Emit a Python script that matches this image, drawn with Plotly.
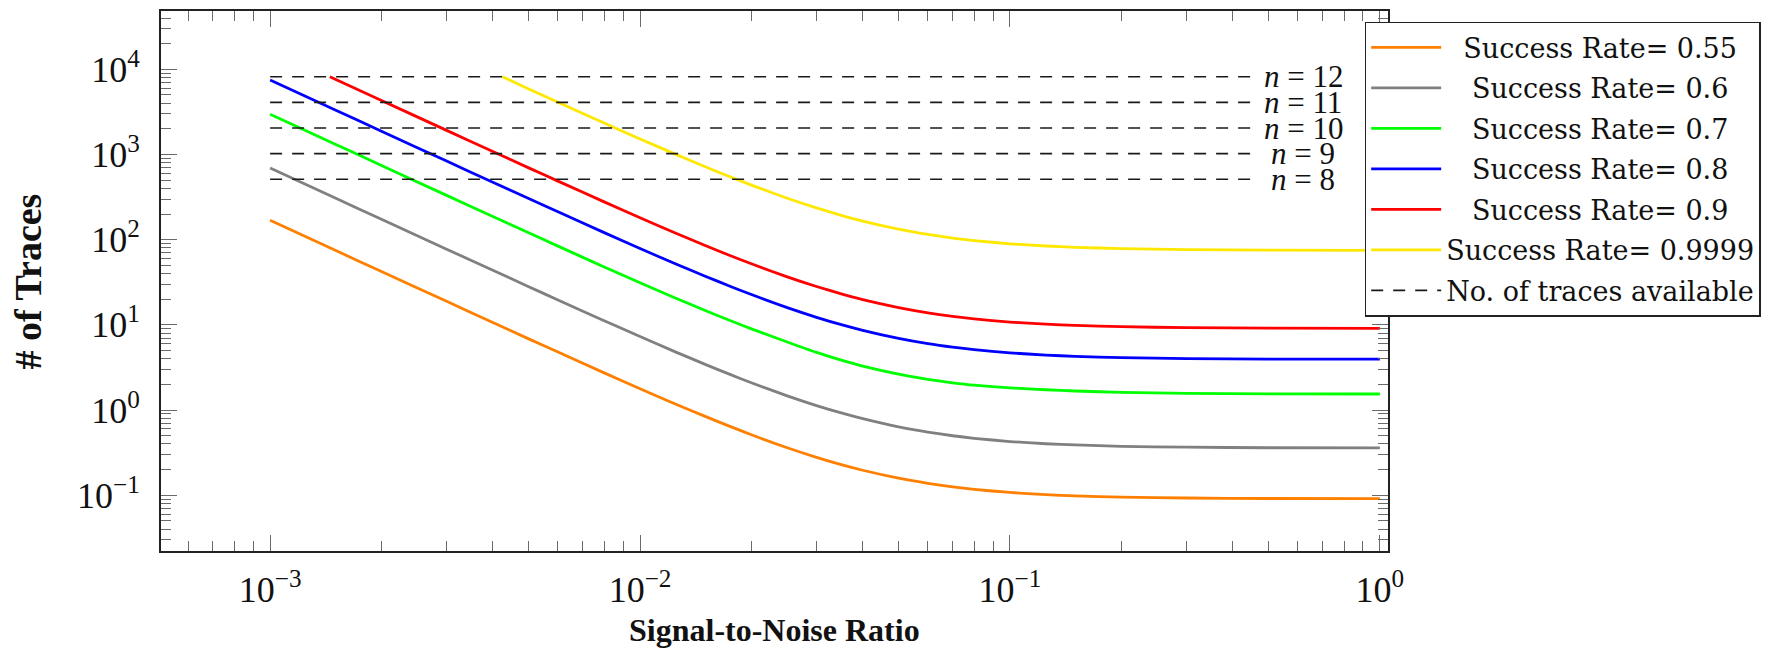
import math
import plotly.graph_objects as go

# ---- data ----
snr_grid = [0.001, 0.0015, 0.002, 0.003, 0.004, 0.005, 0.006, 0.008, 0.01, 0.0125,
            0.015, 0.0175, 0.02, 0.025, 0.03, 0.035, 0.04, 0.05, 0.06, 0.07,
            0.08, 0.1, 0.125, 0.15, 0.2, 0.3, 0.5, 1.0]

traces_055 = [169, 75.1, 42.3, 18.9, 10.65, 6.85, 4.79, 2.73, 1.78, 1.172,
              0.842, 0.643, 0.513, 0.361, 0.2786, 0.2287, 0.1964, 0.1584, 0.1378, 0.1253,
              0.1172, 0.1077, 0.1016, 0.0983, 0.0950, 0.0927, 0.0915, 0.0910]
traces_06 = [693, 308, 173.6, 77.4, 43.7, 28.1, 19.6, 11.19, 7.29, 4.79,
             3.44, 2.62, 2.09, 1.467, 1.128, 0.924, 0.791, 0.635, 0.551, 0.499,
             0.466, 0.427, 0.402, 0.389, 0.375, 0.366, 0.361, 0.359]
traces_07 = [2972, 1321, 744, 331.5, 187.2, 120.3, 84.0, 47.9, 31.2, 20.55,
             14.74, 11.24, 8.97, 6.29, 4.75, 3.85, 3.28, 2.64, 2.29, 2.09,
             1.96, 1.82, 1.73, 1.672, 1.614, 1.573, 1.552, 1.543]
traces_08 = [7504, 3337, 1879, 837, 473, 304, 212.3, 121.1, 78.9, 51.9,
             37.3, 28.4, 22.7, 15.94, 12.27, 10.06, 8.63, 6.94, 6.02, 5.47,
             5.11, 4.69, 4.42, 4.27, 4.13, 4.02, 3.97, 3.95]

snr_09 = [0.00145, 0.002, 0.003, 0.004, 0.005, 0.006, 0.008, 0.01, 0.0125,
          0.015, 0.0175, 0.02, 0.025, 0.03, 0.035, 0.04, 0.05, 0.06, 0.07,
          0.08, 0.1, 0.125, 0.15, 0.2, 0.3, 0.5, 1.0]
traces_09 = [8192, 4309, 1920, 1084, 697, 487, 277.8, 181.1, 119.2,
             85.5, 65.2, 52.1, 36.6, 28.2, 23.1, 19.8, 15.96, 13.86, 12.59,
             11.77, 10.8, 10.18, 9.84, 9.51, 9.27, 9.15, 9.10]

snr_09999 = [0.00425, 0.005, 0.006, 0.008, 0.01, 0.0125,
             0.015, 0.0175, 0.02, 0.025, 0.03, 0.035, 0.04, 0.05, 0.06, 0.07,
             0.08, 0.1, 0.125, 0.15, 0.2, 0.3, 0.5, 1.0]
traces_09999 = [8192, 5875, 4103, 2341, 1525, 1003,
                719, 548, 437.5, 307, 236, 193.4, 165.6, 133, 115.3, 104.6,
                97.7, 89.5, 84.3, 81.4, 78.6, 76.6, 75.6, 75.1]

success_labels = ["Success Rate= 0.55", "Success Rate= 0.6", "Success Rate= 0.7",
                  "Success Rate= 0.8", "Success Rate= 0.9", "Success Rate= 0.9999"]
available_label = "No. of traces available"

n_values = [8, 9, 10, 11, 12]
traces_available = [512, 1024, 2048, 4096, 8192]
available_snr_span = [0.001, 0.45]
n_label_snr = 0.62

x_tick_vals = [1e-3, 1e-2, 1e-1, 1]
x_tick_text = ["10<sup>\u22123</sup>", "10<sup>\u22122</sup>", "10<sup>\u22121</sup>", "10<sup>0</sup>"]
y_tick_vals = [1e-1, 1, 10, 100, 1000, 10000]
y_tick_text = ["10<sup>\u22121</sup>", "10<sup>0</sup>", "10<sup>1</sup>", "10<sup>2</sup>", "10<sup>3</sup>", "10<sup>4</sup>"]

# ---- styling ----
colors = ["#FF8000", "#808080", "#00FF00", "#0000FF", "#FF0000", "#FFE800"]
legend_pad = [2, 3, 3, 3, 3, 0]
serif = "Liberation Serif"
legend_font = "DejaVu Serif"

series_x = [snr_grid, snr_grid, snr_grid, snr_grid, snr_09, snr_09999]
series_y = [traces_055, traces_06, traces_07, traces_08, traces_09, traces_09999]

fig = go.Figure()
for name, xs, ys, col, pad in zip(success_labels, series_x, series_y, colors, legend_pad):
    fig.add_trace(go.Scatter(
        x=xs, y=ys, mode="lines", name="&nbsp;" * pad + name,
        line=dict(color=col, width=2.8, shape="spline", smoothing=0.6),
        legendgroup=name,
    ))

for i, (n, v) in enumerate(zip(n_values, traces_available)):
    fig.add_trace(go.Scatter(
        x=available_snr_span, y=[v, v], mode="lines",
        name=available_label, legendgroup="avail", showlegend=(i == 0),
        line=dict(color="#1a1a1a", width=1.6, dash="12px,10px"),
    ))
    fig.add_annotation(
        x=math.log10(n_label_snr), y=math.log10(v), xref="x", yref="y",
        text=f"<i>n</i> = {n}", showarrow=False, xanchor="center", yanchor="middle",
        font=dict(family=serif, size=31, color="#111"),
    )

minor_x = [m * 10.0 ** k for k in range(-4, 1) for m in range(2, 10)]
minor_y = [m * 10.0 ** k for k in range(-2, 5) for m in range(2, 10)]

tick_common = dict(
    showline=True, linecolor="#222", linewidth=2, mirror="allticks",
    ticks="inside", ticklen=16, tickwidth=1.2, tickcolor="#6a6a6a",
    showgrid=False, zeroline=False,
)

fig.update_layout(
    width=1779, height=651,
    margin=dict(l=161, r=391, t=9, b=100),
    plot_bgcolor="white", paper_bgcolor="white",
    showlegend=True,
    legend=dict(
        x=0.981, y=0.980, xanchor="left", yanchor="top",
        bgcolor="white", bordercolor="#222", borderwidth=1.5,
        font=dict(family=legend_font, size=27, color="#111"),
        itemwidth=70, tracegroupgap=2.4,
    ),
    xaxis=dict(
        type="log", range=[-3.295, 0.022],
        tickvals=x_tick_vals, ticktext=x_tick_text,
        tickfont=dict(family=serif, size=36, color="#111"),
        ticklabelstandoff=6,
        minor=dict(ticks="inside", ticklen=10, tickwidth=1.2, tickcolor="#6a6a6a", tickvals=minor_x),
        **tick_common,
    ),
    yaxis=dict(
        type="log", range=[-1.655, 4.685],
        tickvals=y_tick_vals, ticktext=y_tick_text,
        tickfont=dict(family=serif, size=36, color="#111"),
        ticklabelstandoff=12,
        minor=dict(ticks="inside", ticklen=10, tickwidth=1.2, tickcolor="#6a6a6a", tickvals=minor_y),
        **tick_common,
    ),
)

fig.add_annotation(
    x=0.5, y=-0.146, xref="paper", yref="paper", showarrow=False,
    text="<b>Signal-to-Noise Ratio</b>", xanchor="center", yanchor="middle",
    font=dict(family=serif, size=32, color="#111"),
)
fig.add_annotation(
    x=-0.108, y=0.5, xref="paper", yref="paper", showarrow=False, textangle=-90,
    text="<b># of Traces</b>", xanchor="center", yanchor="middle",
    font=dict(family=serif, size=38, color="#111"),
)

fig.write_html("out.html")
